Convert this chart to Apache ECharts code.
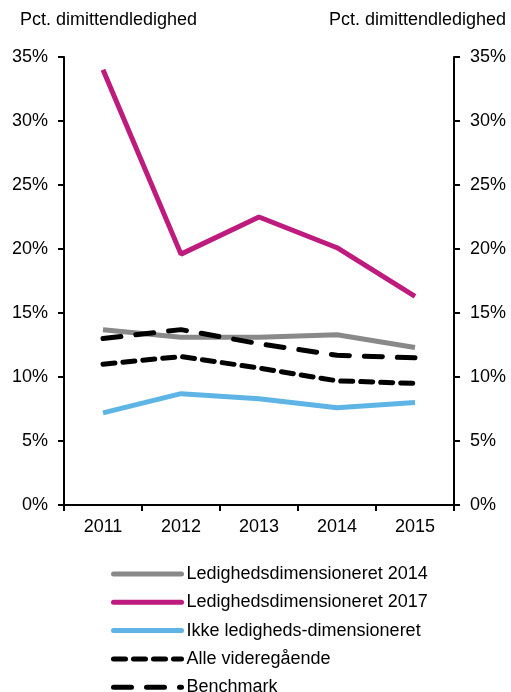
<!DOCTYPE html>
<html>
<head>
<meta charset="utf-8">
<script src="https://cdn.jsdelivr.net/npm/echarts@6/dist/echarts.min.js"></script>
<style>
    html, body { margin: 0; padding: 0; background: #fff; }
    #chart { width: 511px; height: 692px; }
</style>
</head>
<body>
<div id="chart"></div>
<script>
    const years = ['2011', '2012', '2013', '2014', '2015'];
    const ledig2014 = [13.7, 13.1, 13.1, 13.3, 12.3];
    const ledig2017 = [34.0, 19.6, 22.5, 20.1, 16.3];
    const ikkeLedig = [7.2, 8.7, 8.3, 7.6, 8.0];
    const alleVideregaaende = [11.0, 11.6, 10.7, 9.7, 9.5];
    const benchmark = [13.0, 13.7, 12.6, 11.7, 11.5];
    const axisTitle = 'Pct. dimittendledighed';

    const font = 'Liberation Sans, Arial, sans-serif';

    const yAxisBase = {
        type: 'value',
        min: 0,
        max: 35,
        interval: 5,
        splitLine: { show: false },
        axisLine: { show: true, lineStyle: { color: '#000', width: 2 } },
        axisTick: { show: true, length: 6, lineStyle: { color: '#000', width: 2 } },
        axisLabel: { formatter: '{value}%', color: '#000', fontSize: 18, fontFamily: font, margin: 16 }
    };

    const chart = echarts.init(document.getElementById('chart'));
    chart.setOption({
        animation: false,
        title: [
            { text: axisTitle, left: 15, top: 6, textStyle: { fontSize: 18, fontWeight: 'normal', color: '#000', fontFamily: font } },
            { text: axisTitle, right: 0, top: 6, textStyle: { fontSize: 18, fontWeight: 'normal', color: '#000', fontFamily: font } }
        ],
        grid: { left: 64, right: 57, top: 57, bottom: 187 },
        xAxis: {
            type: 'category',
            data: years,
            boundaryGap: true,
            axisLine: { lineStyle: { color: '#000', width: 2 } },
            axisTick: { show: true, length: 6, lineStyle: { color: '#000', width: 2 } },
            axisLabel: { color: '#000', fontSize: 18, fontFamily: font, margin: 13 }
        },
        yAxis: [
            Object.assign({ position: 'left' }, yAxisBase),
            Object.assign({ position: 'right' }, yAxisBase)
        ],
        legend: {
            orient: 'vertical',
            left: 111,
            top: 565,
            height: 160,
            padding: 0,
            itemWidth: 68,
            itemHeight: 18,
            itemGap: 10.3,
            itemStyle: { opacity: 0 },
            lineStyle: { width: 5, cap: 'round' },
            textStyle: { color: '#000', fontSize: 18, fontFamily: font, lineHeight: 18 },
            data: ['Ledighedsdimensioneret 2014', 'Ledighedsdimensioneret 2017', 'Ikke ledigheds-dimensioneret', 'Alle videregående', 'Benchmark']
        },
        series: [{
            name: 'Ledighedsdimensioneret 2014',
            type: 'line',
            data: ledig2014,
            symbol: 'none',
            lineStyle: { color: '#898989', width: 5 },
            itemStyle: { color: '#898989' }
        }, {
            name: 'Ledighedsdimensioneret 2017',
            type: 'line',
            data: ledig2017,
            symbol: 'none',
            lineStyle: { color: '#BE1B7E', width: 5 },
            itemStyle: { color: '#BE1B7E' }
        }, {
            name: 'Ikke ledigheds-dimensioneret',
            type: 'line',
            data: ikkeLedig,
            symbol: 'none',
            lineStyle: { color: '#5DB4E5', width: 5 },
            itemStyle: { color: '#5DB4E5' }
        }, {
            name: 'Alle videregående',
            type: 'line',
            data: alleVideregaaende,
            symbol: 'none',
            lineStyle: { color: '#000', width: 5, type: [12, 8], cap: 'round' },
            itemStyle: { color: '#000' }
        }, {
            name: 'Benchmark',
            type: 'line',
            data: benchmark,
            symbol: 'none',
            lineStyle: { color: '#000', width: 5, type: [18, 15], cap: 'round' },
            itemStyle: { color: '#000' }
        }]
    });
</script>
</body>
</html>
